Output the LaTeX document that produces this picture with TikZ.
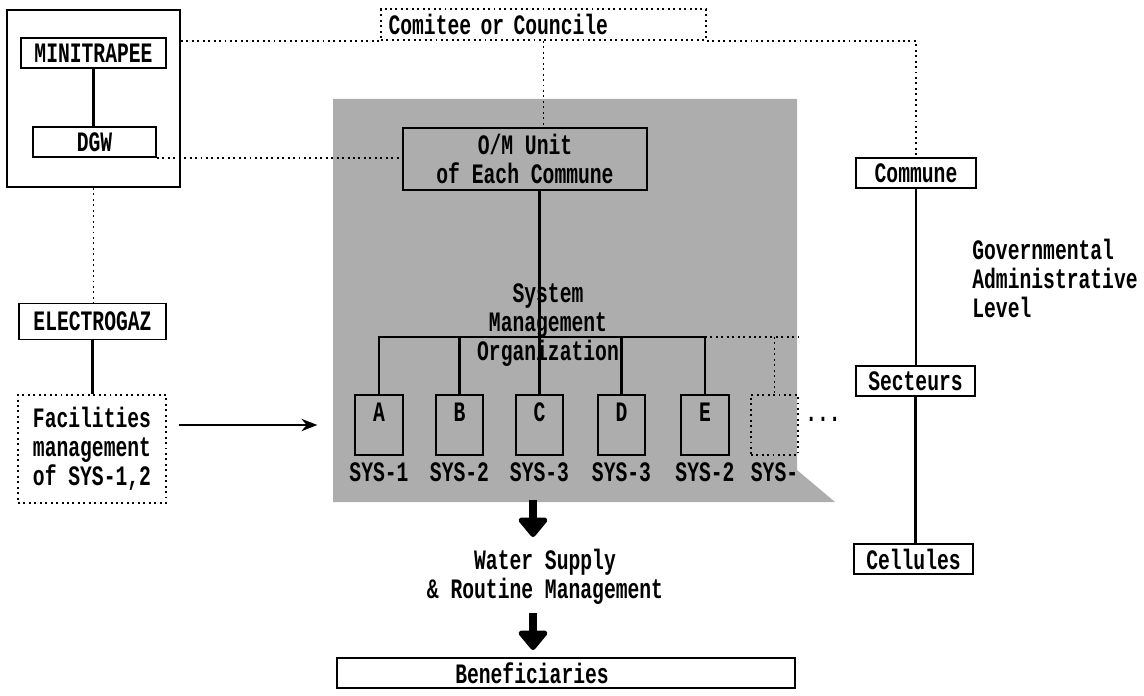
\documentclass[tikz,border=0pt]{standalone}
\usepackage{fontspec}
\newfontfamily\cond[FakeStretch=0.7]{Liberation Mono}
\usetikzlibrary{arrows.meta}
\begin{document}
\begin{tikzpicture}[x=0.02cm,y=-0.02cm,
  txt/.style={font=\cond\bfseries\fontsize{16}{16.5}\selectfont, inner sep=0pt},
  solidbox/.style={txt, draw, line width=1.1pt, rectangle},
  dotbox/.style={txt, draw, dotted, line width=1.1pt, rectangle},
  sysbox/.style={solidbox, minimum width=0.95cm, minimum height=1.2cm},
  link/.style={line width=1.2pt},
  dotlink/.style={line width=1.1pt, dotted},
  flow/.style={line width=1.1pt, -{Stealth[length=9pt,width=7pt]}},
  bigarrow/.style={line width=4.5pt, -{Triangle[length=12pt,width=19pt,round]}},
  shadearea/.style={fill=black!32}]
\useasboundingbox (0,0) rectangle (1144,696);

% shaded area
\fill[shadearea] (333,99) -- (797,99) -- (797,470) -- (835,502) -- (333,502) -- cycle;

% left column
\node[solidbox, minimum width=3.46cm, minimum height=3.54cm] (gov) at (93.5,98.5) {};
\node[solidbox, minimum width=2.9cm, minimum height=0.6cm] (mini) at (93.5,53) {MINITRAPEE};
\node[solidbox, minimum width=2.46cm, minimum height=0.6cm] (dgw) at (94.5,142) {DGW};
\node[solidbox, minimum width=2.94cm, minimum height=0.72cm] (elec) at (92.5,321.5) {ELECTROGAZ};
\node[dotbox, align=center, minimum width=2.96cm, minimum height=2.16cm] (fac) at (92,449) {Facilities\\management\\of SYS-1,2};

% top
\node[dotbox, minimum width=6.5cm, minimum height=0.62cm, text width=6.2cm, align=left] (com) at (543.5,24.5) {Comitee or Councile};
\node[solidbox, align=center, minimum width=4.88cm, minimum height=1.24cm] (om) at (525,159) {O/M Unit\\of Each Commune};

% systems
\foreach \n/\x/\s in {A/379/SYS-1, B/459.5/SYS-2, C/539.5/SYS-3, D/621.5/SYS-3, E/705/SYS-2} {
  \node[sysbox, label={[txt, anchor=north, yshift=-5pt]north:\n}] (\n) at (\x,425) {};
  \node[txt] (sys\n) at (\x,472) {\s};
}
\node[dotbox, minimum width=0.95cm, minimum height=1.2cm] (F) at (774.5,425) {};
\node[txt] (sysF) at (774.5,472) {SYS-};
\node[txt] (dots) at (823,419) {...};

\node[txt, align=center] (smo) at (548,325) {System\\Management\\Organization};

\coordinate (bus) at (0,337);
\coordinate (busend) at (798,337);
\draw[link] (A.north) -- (A.north |- bus) -- (E.north |- bus) -- (E.north);
\draw[link] (B.north) -- (B.north |- bus);
\draw[link] (D.north) -- (D.north |- bus);
\draw[link] (om.south -| C.north) -- (C.north);
\draw[dotlink] (E.north |- bus) -- (busend);
\draw[dotlink] (F.north |- bus) -- (F.north);

% right column
\node[solidbox, minimum width=2.4cm, minimum height=0.6cm] (commune) at (916,173) {Commune};
\node[solidbox, minimum width=2.38cm, minimum height=0.6cm] (sect) at (915.5,381) {Secteurs};
\node[solidbox, minimum width=2.38cm, minimum height=0.6cm] (cell) at (913.5,559) {Cellules};
\draw[link] (commune.south) -- (commune.south |- sect.north);
\draw[link] (sect.south) -- (sect.south |- cell.north);
\node[txt, align=left, anchor=north west] (gal) at (972,239) {Governmental\\Administrative\\Level};

% bottom
\node[txt, align=center] (water) at (545,577) {Water Supply\\\& Routine Management};
\node[solidbox, minimum width=9.16cm, minimum height=0.6cm] (ben) at (566,673) {\hspace*{-1.36cm}Beneficiaries};
\coordinate (a1s) at (533,500);
\coordinate (a1e) at (533,537);
\coordinate (a2s) at (533,613);
\coordinate (a2e) at (533,650);
\draw[bigarrow] (a1s) -- (a1e);
\draw[bigarrow] (a2s) -- (a2e);

% connectors
\draw[link] (mini.south) -- (mini.south |- dgw.north);
\draw[dotlink] (gov.south) -- (gov.south |- elec.north);
\draw[link] (elec.south) -- (elec.south |- fac.north);
\draw[flow, shorten <=0.24cm, shorten >=0.74cm] (fac.east |- A.west) -- (A.west);
\draw[dotlink] (gov.east |- com.south) -- (com.south west);
\draw[dotlink] (com.south east) -- (commune.north |- com.south) -- (commune.north);
\draw[dotlink] (com.south) -- (com.south |- om.north);
\draw[dotlink] (dgw.south east) -- (dgw.south east -| om.west);
\end{tikzpicture}
\end{document}
